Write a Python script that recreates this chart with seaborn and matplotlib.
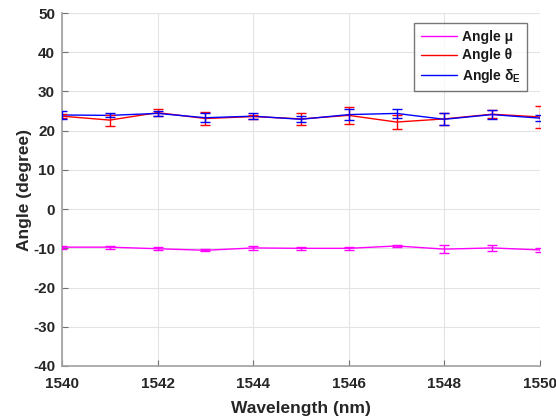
import numpy as np
import pandas as pd
import seaborn as sns
import matplotlib
matplotlib.use("Agg")
import matplotlib.pyplot as plt

# Measured angles versus wavelength
wavelength = [1540, 1541, 1542, 1543, 1544, 1545, 1546, 1547, 1548, 1549, 1550]

mu = [-9.7, -9.7, -10.1, -10.5, -9.9, -10.0, -10.0, -9.4, -10.2, -9.9, -10.4]
mu_err = [0.4, 0.4, 0.4, 0.3, 0.5, 0.3, 0.3, 0.3, 1.0, 0.8, 0.6]

theta = [23.7, 22.7, 24.6, 23.1, 23.6, 23.0, 23.9, 22.2, 23.0, 24.2, 23.5]
theta_err = [0.5, 1.4, 0.8, 1.6, 0.5, 1.5, 2.2, 1.9, 1.5, 1.0, 2.8]

delta = [24.0, 23.9, 24.4, 23.3, 23.7, 22.9, 24.1, 24.4, 22.9, 24.1, 23.2]
delta_err = [1.0, 0.5, 0.7, 1.2, 0.8, 0.8, 1.3, 1.15, 1.5, 1.2, 0.85]

labels = ["Angle μ", "Angle θ", r"Angle δ$_{\mathbf{E}}$"]
colors = ["#ff00ff", "#ff0000", "#0000ff"]

sns.set_theme(style="white")
plt.rcParams["font.family"] = ["Liberation Sans", "DejaVu Sans"]
plt.rcParams["font.weight"] = "bold"
plt.rcParams["axes.unicode_minus"] = False
plt.rcParams["mathtext.fontset"] = "custom"
plt.rcParams["mathtext.bf"] = "Liberation Sans:bold"
plt.rcParams["mathtext.rm"] = "Liberation Sans:bold"

df = pd.concat([
    pd.DataFrame({"Wavelength": wavelength, "Angle": vals, "err": errs, "series": lab})
    for vals, errs, lab in zip([mu, theta, delta], [mu_err, theta_err, delta_err], labels)
])

fig = plt.figure(figsize=(5.56, 4.2), dpi=100)
ax = fig.add_axes([0.1115, 0.1286, 0.8595, 0.8404])

sns.lineplot(data=df, x="Wavelength", y="Angle", hue="series", palette=colors,
             hue_order=labels, linewidth=1.0, ax=ax, errorbar=None, sort=False)

for lab, col in zip(labels, colors):
    sub = df[df["series"] == lab]
    ax.errorbar(sub["Wavelength"], sub["Angle"], yerr=sub["err"], fmt="none",
                ecolor=col, elinewidth=1.0, capsize=3.4, capthick=1.0, zorder=3)

ax.set_xlim(1540, 1550)
ax.set_ylim(-40, 50)
ax.set_xticks(range(1540, 1551, 2))
ax.set_yticks(range(-40, 51, 10))
ax.grid(True, color="#e3e3e3", linewidth=0.8)
ax.set_axisbelow(True)

for s in ["top", "right"]:
    ax.spines[s].set_visible(False)
for s in ["left", "bottom"]:
    ax.spines[s].set_color("#a0a0a0")
    ax.spines[s].set_linewidth(1.2)

ax.tick_params(axis="both", direction="in", length=4, width=0.8, color="#707070",
               labelsize=11, labelcolor="#262626", left=True, bottom=True)
ax.tick_params(axis="x", pad=8)
ax.tick_params(axis="y", pad=5)
for t in ax.get_xticklabels() + ax.get_yticklabels():
    t.set_fontweight("bold")

ax.set_xlabel("Wavelength (nm)", fontsize=12.5, fontweight="bold", color="#262626", labelpad=7)
ax.set_ylabel("Angle (degree)", fontsize=12.5, fontweight="bold", color="#262626", labelpad=1)

leg = ax.legend(loc="upper right", bbox_to_anchor=(0.973, 0.971), frameon=True, fancybox=False,
                fontsize=10, handlelength=2.6, handletextpad=0.35, borderpad=0.45,
                labelspacing=0.35, borderaxespad=0.0)
leg.get_frame().set_edgecolor("#555555")
leg.get_frame().set_linewidth(1.0)
for t in leg.get_texts():
    t.set_fontweight("bold")
    t.set_color("#1a1a1a")

fig.savefig("out.png", dpi=100, facecolor="white")
